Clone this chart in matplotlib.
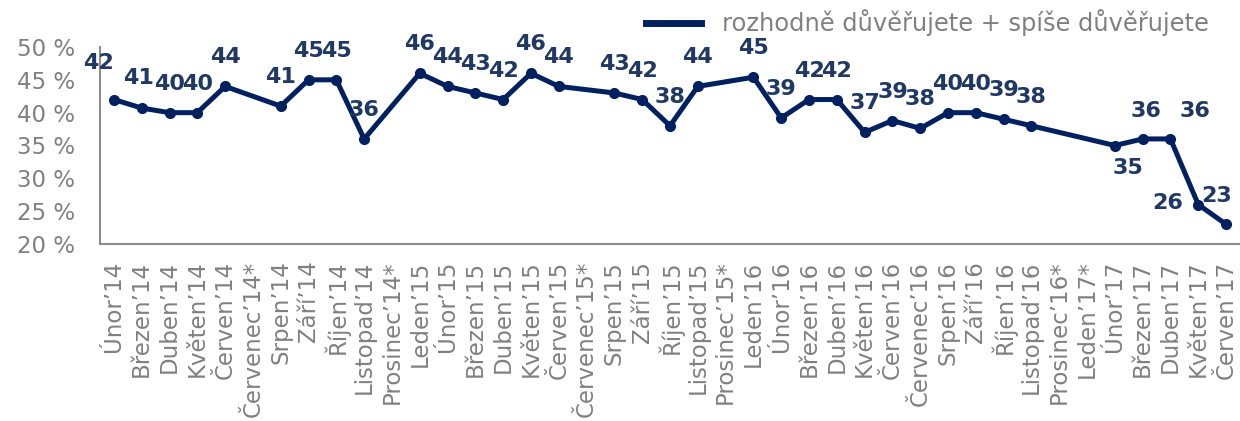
import matplotlib
matplotlib.use("Agg")
import matplotlib.pyplot as plt
import numpy as np

categories = ["Únor’14", "Březen’14", "Duben’14", "Květen’14", "Červen’14", "Červenec’14*",
              "Srpen’14", "Září’14", "Říjen’14", "Listopad’14", "Prosinec’14*",
              "Leden’15", "Únor’15", "Březen’15", "Duben’15", "Květen’15", "Červen’15",
              "Červenec’15*", "Srpen’15", "Září’15", "Říjen’15", "Listopad’15", "Prosinec’15*",
              "Leden’16", "Únor’16", "Březen’16", "Duben’16", "Květen’16", "Červen’16",
              "Červenec’16", "Srpen’16", "Září’16", "Říjen’16", "Listopad’16", "Prosinec’16*",
              "Leden’17*", "Únor’17", "Březen’17", "Duben’17", "Květen’17", "Červen’17"]
values = [42, 40.7, 40, 40, 44, None,
          41, 45, 45, 36, None,
          46, 44, 43, 42, 46, 44,
          None, 43, 42, 38, 44, None,
          45.4, 39.2, 42, 42, 37, 38.8,
          37.6, 40, 40, 39, 38, None,
          None, 35, 36, 36, 26, 23]
series_name = "rozhodně důvěřujete + spíše důvěřujete"
yticks = [20, 25, 30, 35, 40, 45, 50]

LINE = "#002060"
LABEL = "#1F3864"
GRAY = "#808080"

# label offsets in pixels (style)
default_off = (0, 29)
offsets = {0: (-15, 37), 1: (-3, 30), 36: (13, -22), 37: (3, 28), 38: (25, 28),
           39: (-31, 2), 40: (-9, 28)}

fig = plt.figure(figsize=(12.4, 4.21), dpi=100)
ax = fig.add_axes([100/1240, 1-244/421, 1140/1240, (244-47)/421])

idx = [i for i, v in enumerate(values) if v is not None]
vals = [values[i] for i in idx]
line, = ax.plot(idx, vals, color=LINE, lw=3.6, marker="o", ms=7, label=series_name,
                solid_joinstyle="round", clip_on=False)

for i, v in zip(idx, vals):
    dx, dy = offsets.get(i, default_off)
    ax.annotate(f"{round(v)}", (i, v), xytext=(dx, dy), textcoords="offset pixels",
                ha="center", va="center", fontsize=16, fontweight="bold", color=LABEL)

ax.set_xlim(-0.5, len(categories) - 0.5)
ax.set_ylim(20, 50)
ax.set_yticks(yticks)
ax.set_yticklabels([f"{t} %" for t in yticks], fontsize=16.5, color=GRAY)
ax.set_xticks(range(len(categories)))
ax.set_xticklabels(categories, rotation=90, fontsize=16.5, color=GRAY)
ax.tick_params(axis="both", length=0)
ax.tick_params(axis="x", pad=12)
ax.tick_params(axis="y", pad=18)
for s in ["top", "right"]:
    ax.spines[s].set_visible(False)
for s in ["left", "bottom"]:
    ax.spines[s].set_color("#8C8C8C")
    ax.spines[s].set_linewidth(1.5)

fig.legend(handles=[line], labels=[series_name], loc="center left",
           bbox_to_anchor=(624/1240, 1-23/421), frameon=False, fontsize=17.4,
           handlelength=2.3, handletextpad=0.85, labelcolor=GRAY)
leg = fig.legends[0]
for h in leg.legend_handles:
    h.set_marker("")
    h.set_linewidth(5)

fig.savefig("out.png", dpi=100)
